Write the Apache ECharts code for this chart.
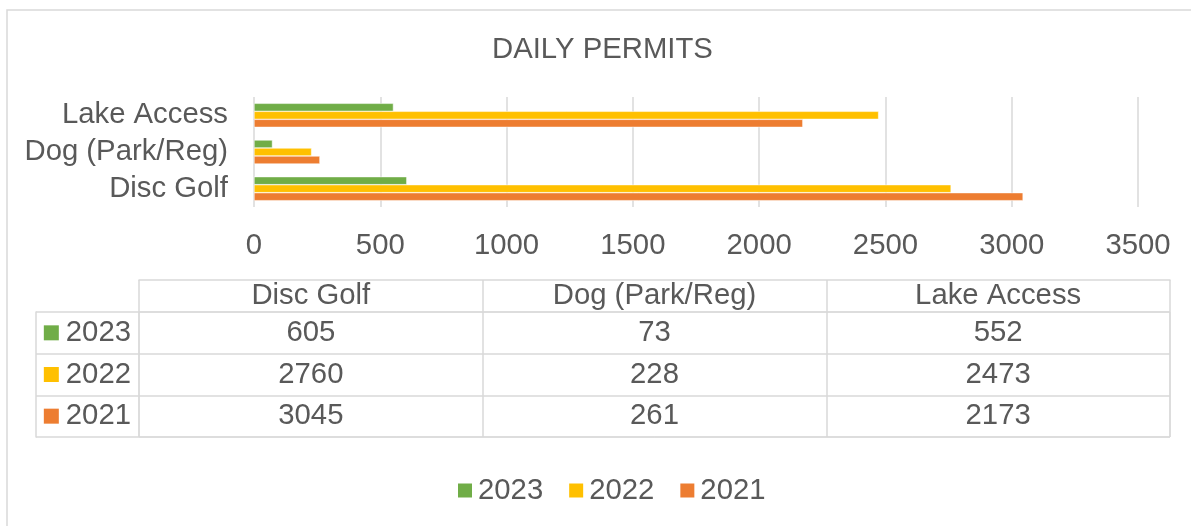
<!DOCTYPE html>
<html>
<head>
<meta charset="utf-8">
<title>Daily Permits</title>
<script src="https://cdn.jsdelivr.net/npm/echarts@6/dist/echarts.min.js"></script>
<style>
  html, body { margin: 0; padding: 0; background: #fff; }
  #chart { width: 1191px; height: 526px; }
</style>
</head>
<body>
<div id="chart"></div>
<script>
// data
const categories = ['Disc Golf', 'Dog (Park/Reg)', 'Lake Access']
const years = ['2023', '2022', '2021']
const values2023 = [605, 73, 552]
const values2022 = [2760, 228, 2473]
const values2021 = [3045, 261, 2173]
const xTicks = [0, 500, 1000, 1500, 2000, 2500, 3000, 3500]

const colors = { '2023': '#70AD47', '2022': '#FFC000', '2021': '#ED7D31' }
const valuesByYear = { '2023': values2023, '2022': values2022, '2021': values2021 }
const textColor = '#595959'
const lineColor = '#d9d9d9'
const font = "'Liberation Sans', Arial, sans-serif"
const fontSize = 29.3

const myChart = echarts.init(document.getElementById('chart'))

// table cells: one point per (category, year), label shows the value
const tableCells = []
years.forEach(y => {
  categories.forEach((c, j) => {
    tableCells.push([c, y, valuesByYear[y][j]])
  })
})

const rowRich = { t: { fontSize: fontSize, color: textColor, fontFamily: font, padding: [0, 0, 0, 7] } }
years.forEach((y, i) => {
  rowRich['s' + i] = { width: 15, height: 15, backgroundColor: colors[y] }
})

// first series is drawn on top inside each group
const barSeries = years.map(y => ({
  name: y,
  type: 'bar',
  xAxisIndex: 0,
  yAxisIndex: 0,
  barWidth: 8,
  barGap: '0%',
  itemStyle: { color: colors[y], borderColor: '#fff', borderWidth: 0.5 },
  data: valuesByYear[y]
}))

const option = {
  animation: false,
  textStyle: { fontFamily: font },
  title: {
    text: 'DAILY PERMITS',
    left: 487,
    top: 30,
    textStyle: { fontSize: fontSize, fontWeight: 'normal', color: textColor, fontFamily: font }
  },
  legend: {
    bottom: 16,
    left: 451,
    icon: 'rect',
    itemWidth: 16,
    itemHeight: 16,
    itemGap: 24,
    data: years,
    textStyle: { fontSize: fontSize, color: textColor, fontFamily: font }
  },
  grid: [
    { left: 254, width: 884, top: 97, height: 110 },
    { left: 139, width: 1031, top: 312, height: 125, show: true, borderColor: lineColor, borderWidth: 1 }
  ],
  xAxis: [
    {
      type: 'value',
      gridIndex: 0,
      min: xTicks[0],
      max: xTicks[xTicks.length - 1],
      interval: 500,
      axisLine: { show: false },
      axisTick: { show: false },
      splitLine: { lineStyle: { color: lineColor, width: 1.5 } },
      axisLabel: { fontSize: fontSize, color: textColor, margin: 24, fontFamily: font, formatter: v => String(v) }
    },
    {
      // table header row
      type: 'category',
      gridIndex: 1,
      position: 'top',
      data: categories,
      axisLine: { show: false },
      axisTick: { show: true, length: 32, lineStyle: { color: lineColor, width: 1.5 } },
      splitLine: { show: true, lineStyle: { color: lineColor, width: 1.5 } },
      axisLabel: { interval: 0, fontSize: fontSize, color: textColor, margin: 16, verticalAlign: 'middle', fontFamily: font }
    },
    {
      // top edge of header row
      type: 'category',
      gridIndex: 1,
      position: 'top',
      offset: 32,
      data: categories,
      axisLine: { show: true, lineStyle: { color: lineColor, width: 1.5 } },
      axisTick: { show: false },
      axisLabel: { show: false }
    }
  ],
  yAxis: [
    {
      type: 'category',
      gridIndex: 0,
      data: categories,
      axisLine: { show: false },
      axisTick: { show: false },
      axisLabel: { interval: 0, fontSize: fontSize, color: textColor, margin: 26, fontFamily: font }
    },
    {
      // table row headers
      type: 'category',
      gridIndex: 1,
      inverse: true,
      data: years,
      axisLine: { show: false },
      axisTick: { show: true, length: 103, lineStyle: { color: lineColor, width: 1.5 } },
      splitLine: { show: true, lineStyle: { color: lineColor, width: 1.5 } },
      axisLabel: {
        interval: 0,
        margin: 8,
        formatter: (v, i) => '{s' + i + '|}{t|' + v + '}',
        rich: rowRich
      }
    },
    {
      // left edge of row header column
      type: 'category',
      gridIndex: 1,
      position: 'left',
      offset: 103,
      data: years,
      axisLine: { show: true, lineStyle: { color: lineColor, width: 1.5 } },
      axisTick: { show: false },
      axisLabel: { show: false }
    }
  ],
  graphic: [
    {
      type: 'rect',
      silent: true,
      shape: { x: 7, y: 10, width: 1300, height: 700 },
      style: { fill: 'none', stroke: lineColor, lineWidth: 1.5 }
    }
  ],
  series: barSeries.concat([
    {
      name: 'table',
      type: 'scatter',
      xAxisIndex: 1,
      yAxisIndex: 1,
      symbolSize: 1,
      silent: true,
      itemStyle: { color: 'rgba(0,0,0,0)' },
      label: {
        show: true,
        position: 'inside',
        fontSize: fontSize,
        color: textColor,
        opacity: 1,
        textBorderWidth: 0,
        fontFamily: font,
        formatter: p => String(p.value[2])
      },
      data: tableCells
    }
  ])
}

myChart.setOption(option)
window.onresize = () => {
  myChart.resize()
}
</script>
</body>
</html>
